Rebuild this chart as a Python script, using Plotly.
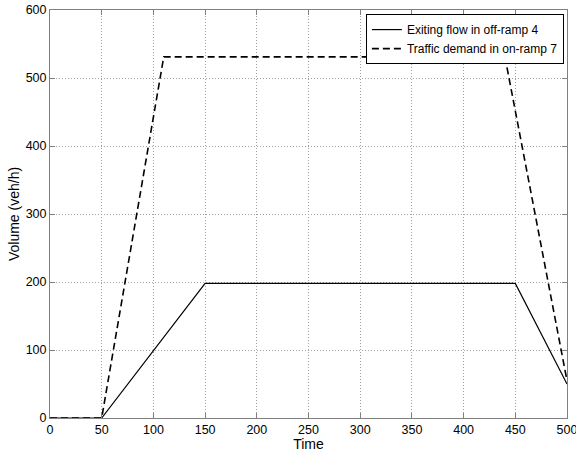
import plotly.graph_objects as go

# Data
time_exit = [0, 50, 150, 450, 500]
flow_exit = [0, 0, 198, 198, 50]
time_demand = [0, 50, 110, 440, 500]
flow_demand = [0, 0, 531, 531, 55]
x_ticks = [0, 50, 100, 150, 200, 250, 300, 350, 400, 450, 500]
y_ticks = [0, 100, 200, 300, 400, 500, 600]

fig = go.Figure()
fig.add_trace(go.Scatter(x=time_exit, y=flow_exit, mode="lines",
                         name="Exiting flow in off-ramp 4",
                         line=dict(color="black", width=1.2)))
fig.add_trace(go.Scatter(x=time_demand, y=flow_demand, mode="lines",
                         name="Traffic demand in on-ramp 7",
                         line=dict(color="black", width=1.6, dash="7px,4px")))

axis_common = dict(showline=True, linecolor="#808080", linewidth=1, mirror="allticks",
                   ticks="inside", ticklen=5, tickcolor="#808080",
                   showgrid=True, gridcolor="#a0a0a0", griddash="1px,2px", gridwidth=1,
                   zeroline=False, automargin=False, ticklabeloverflow="allow",
                   tickfont=dict(size=12.5, color="black"))

fig.update_xaxes(range=[0, 500], tickvals=x_ticks,
                 title=dict(text="Time", font=dict(size=14, color="black"), standoff=0),
                 **axis_common)
fig.update_yaxes(range=[0, 600], tickvals=y_ticks,
                 title=dict(text="Volume (veh/h)", font=dict(size=14, color="black"), standoff=2),
                 **axis_common)

fig.update_layout(
    width=576, height=452, autosize=False,
    margin=dict(l=50, r=9, t=10, b=34, autoexpand=False),
    paper_bgcolor="white", plot_bgcolor="white",
    font=dict(family="Liberation Sans, Arial, sans-serif", color="black"),
    showlegend=True,
    legend=dict(x=0.994, y=0.99, xanchor="right", yanchor="top",
                bordercolor="black", borderwidth=1, bgcolor="white",
                font=dict(size=12), tracegroupgap=0, itemwidth=30),
)

fig.write_html("out.html", config={"displayModeBar": False},
               post_script="document.body.style.margin='0';document.body.style.padding='0';")
